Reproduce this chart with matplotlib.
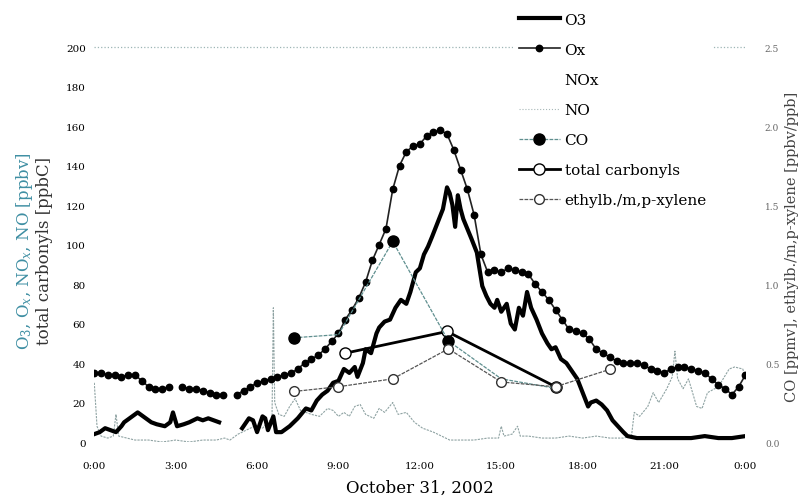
import numpy as np
import matplotlib
matplotlib.use('Agg')
import matplotlib.pyplot as plt
from matplotlib.lines import Line2D

plt.rcParams['font.family'] = 'DejaVu Serif'
plt.rcParams['mathtext.fontset'] = 'dejavuserif'

# Ox, every 15 minutes from 0:00 to 24:00 (nan = gap in the record)
ox_hours = np.arange(0, 24.01, 0.25)
ox = [35, 35, 34, 34, 33, 34, 34, 31, 28, 27, 27, 28,
      np.nan, 28, 27, 27, 26, 25, 24, 24,
      np.nan, 24, 26, 28, 30, 31, 32, 33, 34, 35, 37, 40,
      42, 44, 47, 51, 55, 62, 67, 73, 81, 92, 100, 108,
      128, 140, 147, 150, 151, 155, 157, 158, 156, 148, 138, 128,
      115, 95, 86, 87, 86, 88, 87, 86, 85, 80, 76, 72,
      67, 62, 57, 56, 55, 52, 47, 45, 43, 41, 40, 40,
      40, 39, 37, 36, 35, 37, 38, 38, 37, 36, 35, 32,
      29, 27, 24, 28, 34]

# O3
o3_hours = [0.0, 0.2, 0.4, 0.6, 0.8, 1.0, 1.1, 1.3, 1.6, 1.8, 2.1, 2.3, 2.6, 2.8, 2.9,
            3.05, 3.3, 3.5, 3.8, 4.0, 4.2, 4.4, 4.6, 4.65, 5.4,
            5.45, 5.6, 5.7, 5.85, 6.0, 6.2, 6.3, 6.4, 6.6, 6.7, 6.9, 7.0, 7.2, 7.5, 7.8,
            8.0, 8.2, 8.4, 8.6, 8.8, 9.0, 9.2, 9.4, 9.6, 9.7, 9.9, 10.0, 10.2, 10.4, 10.5,
            10.7, 10.9, 11.1, 11.3, 11.5, 11.65, 11.85, 12.0, 12.15, 12.3, 12.45, 12.65,
            12.85, 13.0, 13.1, 13.2, 13.3, 13.4, 13.5, 13.6, 13.75, 13.9, 14.1, 14.3,
            14.45, 14.6, 14.75, 14.85, 15.0, 15.2, 15.35, 15.5, 15.65, 15.8, 15.95, 16.1,
            16.3, 16.5, 16.7, 16.85, 17.0, 17.2, 17.4, 17.6, 17.8, 18.0, 18.2, 18.3, 18.5,
            18.7, 18.9, 19.1, 19.3, 19.5, 19.65, 20.0, 20.5, 21.0, 21.5, 22.0, 22.5, 23.0,
            23.5, 24.0]
o3 = [4, 5, 7, 6, 5, 8, 10, 12, 15, 13, 10, 9, 8, 10, 15,
      8, 9, 10, 12, 11, 12, 11, 10, np.nan, np.nan,
      7, 10, 12, 11, 5, 13, 12, 6, 13, 5, 5, 6, 8, 12, 17,
      16, 21, 24, 26, 30, 31, 37, 35, 38, 33, 40, 47, 45, 55, 58,
      61, 62, 68, 72, 70, 76, 86, 88, 95, 99, 104, 111,
      118, 129, 126, 120, 109, 125, 118, 113, 108, 103, 96, 79,
      74, 70, 68, 72, 66, 70, 60, 57, 68, 64, 76, 68,
      62, 55, 50, 47, 48, 42, 40, 36, 32, 25, 18, 20, 21,
      19, 16, 11, 8, 5, 3, 2, 2, 2, 2, 2, 3, 2,
      2, 3]

# NO
no_hours = [0.0, 0.1, 0.25, 0.5, 0.7, 0.8, 0.9, 1.2, 1.5, 2.0, 2.5, 3.0, 3.5, 4.0, 4.5,
            4.8, 5.0, 5.3, 5.6, 5.9, 6.2, 6.4, 6.55, 6.6, 6.65, 6.8, 7.0, 7.2, 7.4, 7.6,
            7.8, 8.0, 8.3, 8.6, 8.8, 9.0, 9.2, 9.4, 9.6, 9.8, 10.0, 10.3, 10.5, 10.7, 11.0,
            11.2, 11.5, 11.8, 12.1, 12.5, 12.8, 13.1, 13.5, 14.0, 14.5, 14.9, 15.0, 15.1,
            15.4, 15.6, 15.7, 16.0, 16.5, 17.0, 17.5, 18.0, 18.5, 19.0, 19.5, 19.8, 19.9,
            20.1, 20.4, 20.6, 20.8, 21.1, 21.3, 21.4, 21.5, 21.7, 21.9, 22.2, 22.4, 22.6,
            23.0, 23.4, 23.6, 23.9, 24.0]
no = [30, 8, 3, 2, 3, 14, 3, 2, 1, 1, 0, 1, 0, 1, 1,
      2, 1, 4, 6, 8, 7, 10, 12, 68, 20, 14, 13, 18, 22, 16,
      15, 14, 13, 17, 16, 13, 15, 13, 18, 19, 14, 12, 17, 15, 20,
      14, 15, 10, 7, 5, 3, 1, 1, 1, 2, 2, 8, 3,
      4, 8, 3, 3, 2, 2, 3, 2, 3, 2, 2, 3, 15,
      13, 18, 25, 20, 27, 33, 46, 32, 27, 32, 18, 17, 25,
      28, 37, 38, 37, 33]

# canister samples
carb_hours = [9.25, 13.0, 17.0]
carbonyls = [45, 56, 28]
co_hours = [7.35, 9.0, 11.0, 13.05, 15.0, 17.0]
co = [0.66, 0.68, 1.27, 0.64, 0.40, 0.34]
xyl_hours = [7.35, 9.0, 11.0, 13.05, 15.0, 17.0, 19.0]
xylene = [0.32, 0.35, 0.40, 0.59, 0.38, 0.35, 0.46]

x_ticks = [0, 3, 6, 9, 12, 15, 18, 21, 24]
x_labels = ['0:00', '3:00', '6:00', '9:00', '12:00', '15:00', '18:00', '21:00', '0:00']

fig = plt.figure(figsize=(7.99, 5.02), dpi=100)
ax = fig.add_axes([0.118, 0.1175, 0.815, 0.7865])
ax2 = ax.twinx()

# left axis
ax.plot(no_hours, no, color='#8fa3a3', lw=0.8, ls=(0, (2, 1)), zorder=2)
l_o3, = ax.plot(o3_hours, o3, color='black', lw=3, zorder=4)
l_ox, = ax.plot(ox_hours, ox, color='#222222', lw=1.2, marker='o', ms=4.6,
                mfc='black', mec='black', zorder=5)
l_carb, = ax.plot(carb_hours, carbonyls, color='black', lw=2, marker='o', ms=8,
                  mfc='white', mec='black', mew=1, zorder=6)

# right axis (CO markers at 9:00, 15:00, 17:00 sit under other marks)
l_co, = ax2.plot(co_hours, co, color='#5f8f8f', lw=0.9, ls=(0, (3, 1)), marker='o', ms=8,
                 mfc='black', mec='black', markevery=[0, 2, 3])
l_xyl, = ax2.plot(xyl_hours, xylene, color='#555555', lw=0.9, ls=(0, (3, 1)), marker='o', ms=7,
                  mfc='white', mec='#333333')

ax.set_xlim(0, 24)
ax.set_ylim(0, 200)
ax2.set_ylim(0, 2.5)
ax.set_xticks(x_ticks)
ax.set_xticklabels(x_labels)
ax.set_yticks(range(0, 201, 20))
ax2.set_yticks([0, 0.5, 1.0, 1.5, 2.0, 2.5])
ax2.set_yticklabels(['0.0', '0.5', '1.0', '1.5', '2.0', '2.5'])
ax.axhline(200, color='#9db5b5', lw=0.9, ls=':', clip_on=False)

for a in (ax, ax2):
    for s in a.spines.values():
        s.set_visible(False)
ax.tick_params(length=0, labelsize=7.5, pad=6)
ax.tick_params(axis='x', pad=14)
ax2.tick_params(length=0, labelsize=6.5, pad=14, colors='#666666')

ax.set_xlabel('October 31, 2002', fontsize=12, labelpad=6)
fig.text(0.031, 0.5, 'O$_3$, O$_x$, NO$_x$, NO [ppbv]', rotation=90, fontsize=12,
         color='#3f8fa3', ha='center', va='center')
fig.text(0.056, 0.5, 'total carbonyls [ppbC]', rotation=90, fontsize=12,
         color='#333333', ha='center', va='center')
fig.text(0.9915, 0.508, 'CO [ppmv], ethylb./m,p-xylene [ppbv/ppb]', rotation=90, fontsize=10.5,
         color='#444444', ha='center', va='center')

# legend
l_nox = Line2D([], [], color='white', lw=1)
handles = [l_o3, l_ox, l_nox, Line2D([], [], color='#a8b8b8', lw=0.8, ls=':'), l_co, l_carb, l_xyl]
labels = ['O3', 'Ox', 'NOx', 'NO', 'CO', 'total carbonyls', 'ethylb./m,p-xylene']
leg = fig.legend(handles, labels, loc='upper left', bbox_to_anchor=(0.632, 1.0),
                 fontsize=11, handlelength=2.7, labelspacing=1.05, handletextpad=0.3,
                 frameon=True, facecolor='white', edgecolor='none', framealpha=1)
leg.set_zorder(10)

fig.savefig('out.png', dpi=100)
